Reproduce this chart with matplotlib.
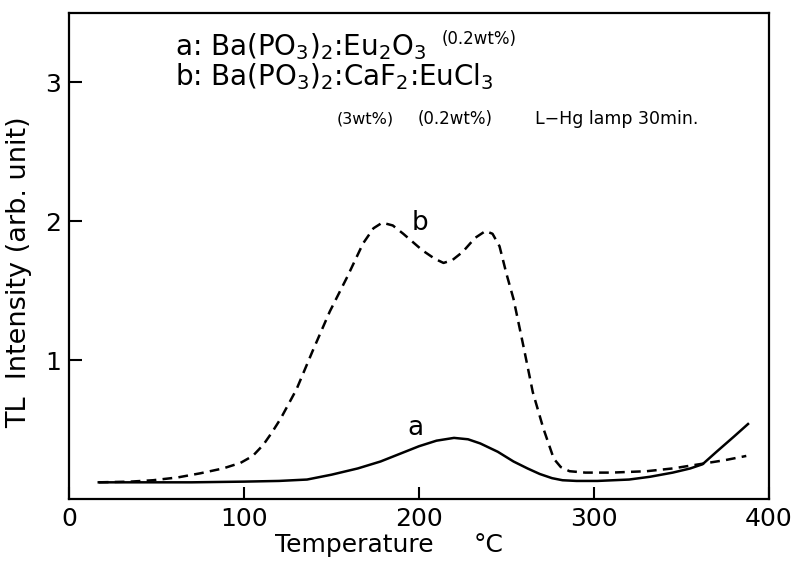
#!/usr/bin/env python3
# coding: utf-8

import matplotlib

matplotlib.use("Agg")
import matplotlib.pyplot as plt

# curve a: Ba(PO3)2:Eu2O3 (solid)
temp_a = [17, 40, 70, 100, 120, 136, 150, 165, 178, 190, 200, 210, 220, 228,
          235, 245, 254, 262, 269, 276, 282, 290, 302, 320, 332, 345, 355, 362,
          370, 380, 388]
tl_a = [0.12, 0.12, 0.12, 0.125, 0.13, 0.14, 0.175, 0.22, 0.27, 0.33, 0.38,
        0.42, 0.44, 0.43, 0.40, 0.34, 0.27, 0.22, 0.18, 0.15, 0.135, 0.13,
        0.13, 0.14, 0.16, 0.19, 0.22, 0.25, 0.34, 0.45, 0.54]

# curve b: Ba(PO3)2:CaF2:EuCl3 (dashed)
temp_b = [17, 35, 48, 62, 75, 88, 98, 105, 111, 116, 121, 130, 139, 149, 159,
          168, 174, 179, 185, 191, 202, 209, 214, 219, 225, 232, 238, 242, 246,
          250, 254, 260, 265, 271, 277, 281, 286, 295, 310, 330, 345, 360, 375,
          387]
tl_b = [0.12, 0.125, 0.135, 0.155, 0.185, 0.22, 0.26, 0.31, 0.39, 0.48, 0.58,
        0.79, 1.06, 1.35, 1.60, 1.84, 1.95, 1.99, 1.97, 1.91, 1.79, 1.73, 1.70,
        1.72, 1.78, 1.88, 1.93, 1.91, 1.82, 1.62, 1.44, 1.08, 0.77, 0.51, 0.29,
        0.23, 0.20, 0.19, 0.19, 0.20, 0.22, 0.25, 0.28, 0.31]

x_ticks = [0, 100, 200, 300, 400]
y_ticks = [1, 2, 3]

plt.rcParams["font.family"] = "DejaVu Sans"
plt.rcParams["mathtext.fontset"] = "dejavusans"
plt.rcParams["lines.scale_dashes"] = False

fig = plt.figure(figsize=(7.97, 5.63), dpi=100)
ax = fig.add_axes([0.0866, 0.1137, 0.8783, 0.8632])

ax.plot(temp_a, tl_a, "k-", lw=1.8)
ax.plot(temp_b, tl_b, color="k", lw=1.8, linestyle=(0, (7, 4.5)))

ax.set_xlim(0, 400)
ax.set_ylim(0, 3.5)
ax.set_xticks(x_ticks)
ax.set_xticklabels([str(t) for t in x_ticks])
ax.set_yticks(y_ticks)
ax.tick_params(direction="in", length=9, width=1.5, labelsize=18)
ax.tick_params(axis="x", pad=6)
ax.tick_params(axis="y", pad=6)
for s in ax.spines.values():
    s.set_linewidth(1.6)

ax.set_ylabel("TL  Intensity (arb. unit)", fontsize=19.5)
ax.yaxis.set_label_coords(-0.052, 0.467)
ax.set_xlabel("Temperature", fontsize=18)
ax.xaxis.set_label_coords(0.407, -0.071)
ax.text(0.599, -0.071, "°C", transform=ax.transAxes, fontsize=18,
        ha="center", va="top")

# curve labels
ax.text(198, 0.51, "a", fontsize=19, ha="center", va="center")
ax.text(200.5, 1.99, "b", fontsize=19, ha="center", va="center")

# sample description
ax.text(60.5, 3.26, r"a: Ba(PO$_3$)$_2$:Eu$_2$O$_3$", fontsize=20,
        ha="left", va="center")
ax.text(213, 3.31, "(0.2wt%)", fontsize=12, ha="left", va="center")
ax.text(60.5, 3.04, r"b: Ba(PO$_3$)$_2$:CaF$_2$:EuCl$_3$", fontsize=20,
        ha="left", va="center")
ax.text(153, 2.74, "(3wt%)", fontsize=11.5, ha="left", va="center")
ax.text(199, 2.74, "(0.2wt%)", fontsize=12, ha="left", va="center")
ax.text(266, 2.74, "L\u2212Hg lamp 30min.", fontsize=12.5, ha="left", va="center")

plt.savefig("out.png", dpi=100)
